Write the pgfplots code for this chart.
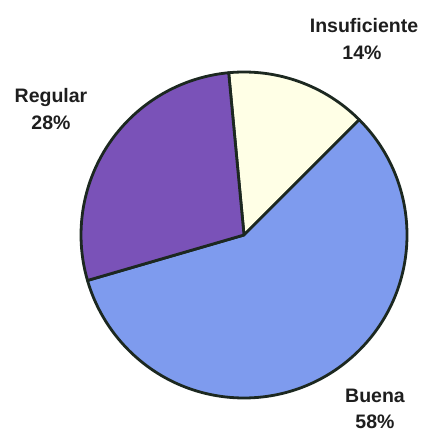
\documentclass[border=0pt]{standalone}
\usepackage{fontspec}
\setmainfont{Liberation Sans}
\usepackage{pgfplots}
\usepackage{pgfplotstable}
\pgfplotsset{compat=1.18}
\definecolor{slice0}{HTML}{FFFFE6}
\definecolor{slice1}{HTML}{7E9BEE}
\definecolor{slice2}{HTML}{7A52B8}
\definecolor{edgec}{HTML}{1C2820}
\definecolor{txt}{HTML}{1E1E1E}
\pgfplotstableread{
label value
Insuficiente 14
Buena 58
Regular 28
}\piedata
\begin{document}
\begin{tikzpicture}
\begin{axis}[
  width=428pt, height=433pt, scale only axis,
  xmin=0, xmax=428, ymin=0, ymax=433,
  hide axis, clip=false,
]
\xdef\curang{95.4}
\pgfplotsinvokeforeach{0,1,2}{
  \pgfplotstablegetelem{#1}{value}\of\piedata
  \pgfmathsetmacro\a{\curang}
  \pgfmathsetmacro\b{\curang - 3.6*\pgfplotsretval}
  \edef\cmd{\noexpand\filldraw[fill=slice#1, draw=edgec, line width=2.8pt, line join=round]
    (axis cs:244,198) -- (axis cs:{244+163*cos(\a)},{198+163*sin(\a)})
    arc[start angle=\a, end angle=\b, radius=163pt] -- cycle;}
  \cmd
  \xdef\curang{\b}
}
\begin{scope}[every node/.style={font=\fontsize{19.5}{21}\selectfont\bfseries, text=txt, anchor=base, inner sep=0pt}]
\node at (axis cs:364,400) {Insuficiente};
\node at (axis cs:362,373) {14\%};
\node at (axis cs:51,330) {Regular};
\node at (axis cs:51,303) {28\%};
\node at (axis cs:375,30) {Buena};
\node at (axis cs:375,5) {58\%};
\end{scope}
\end{axis}
\pgfresetboundingbox
\path[use as bounding box] (current axis.south west) rectangle (current axis.north east);
\end{tikzpicture}
\end{document}
